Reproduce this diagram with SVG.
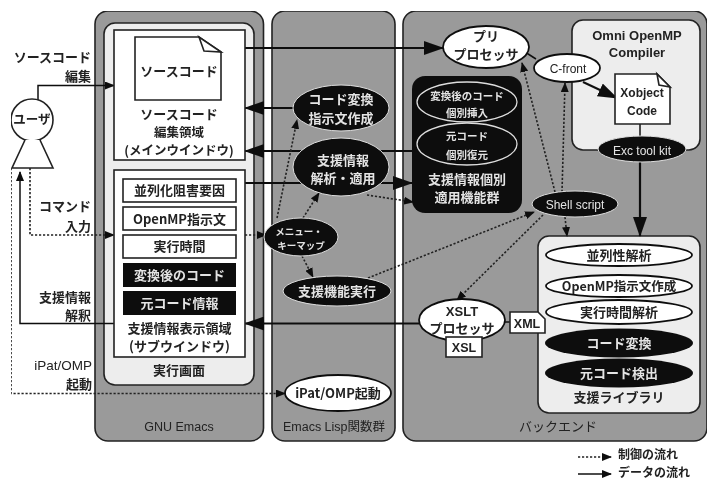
<svg xmlns="http://www.w3.org/2000/svg" width="710" height="482" viewBox="0 0 710 482">
<style>
text{font-family:"Noto Sans CJK JP","Liberation Sans",sans-serif;font-weight:700;font-size:13px;fill:#222;text-anchor:middle}
.r{text-anchor:end}
.w{fill:#e4e4e4}
.l{font-family:"Liberation Sans","Noto Sans CJK JP",sans-serif;font-weight:400;font-size:12.500px}
.s{font-size:12.500px}
.panel{fill:#9a9a9a;stroke:#222;stroke-width:1.6}
.light{fill:#ededed;stroke:#222;stroke-width:1.6}
.wb{fill:#fff;stroke:#222;stroke-width:1.6}
.bk{fill:#0c0c0c;stroke:#ddd;stroke-width:1}
.we{fill:#fff;stroke:#111;stroke-width:1.8}
.ie{fill:#0c0c0c;stroke:#ddd;stroke-width:1.3}
.ln{fill:none;stroke:#111;stroke-width:1.5}
.th{fill:none;stroke:#111;stroke-width:2.2}
.dt{fill:none;stroke:#222;stroke-width:1.6;stroke-dasharray:2.2 1.8}
</style>
<defs>
<marker id="a" markerUnits="userSpaceOnUse" markerWidth="20" markerHeight="14" refX="19" refY="7" orient="auto"><path d="M0 0L20 7L0 14z" fill="#111"/></marker>
<marker id="m" markerUnits="userSpaceOnUse" markerWidth="10" markerHeight="8" refX="9" refY="4" orient="auto"><path d="M0 0L10 4L0 8z" fill="#111"/></marker>
<filter id="soft" x="0" y="0" width="100%" height="100%"><feGaussianBlur stdDeviation="0.45"/></filter>
</defs>
<g id="diagram" filter="url(#soft)">
<g id="panels">
<rect class="panel" x="95" y="11" width="168.500" height="430" rx="13"/>
<rect class="panel" x="272" y="11" width="123" height="430" rx="13"/>
<rect class="panel" x="403" y="11" width="304" height="430" rx="13"/>
<rect class="light" x="104" y="23" width="150" height="362" rx="11"/>
<rect class="light" x="572" y="20" width="128" height="130" rx="11"/>
<rect class="light" x="538" y="236" width="162" height="177" rx="11"/>
</g>
<g id="connectors">
<path class="ln" d="M38 100V85.500H114" marker-end="url(#m)"/>
<path class="th" d="M245 48H443" marker-end="url(#a)"/>
<path class="th" d="M293 108H245" marker-end="url(#a)"/>
<path class="th" d="M412 151H245" marker-end="url(#a)"/>
<path class="th" d="M245 183H412" marker-end="url(#a)"/>
<path class="th" d="M419 323.500H245" marker-end="url(#a)"/>
<path class="ln" d="M114 323.500H20V172" marker-end="url(#m)"/>
<path class="dt" d="M30 168V235H114" marker-end="url(#m)"/>
<path class="dt" d="M245 235H266" marker-end="url(#m)"/>
<path class="dt" d="M11 168V393.500H285" marker-end="url(#m)"/>
<path class="dt" d="M277 218L297 120" marker-end="url(#m)"/>
<path class="dt" d="M303 218L319 193" marker-end="url(#m)"/>
<path class="dt" d="M367 195L413 202" marker-end="url(#m)"/>
<path class="dt" d="M302 256L313 277" marker-end="url(#m)"/>
<path class="dt" d="M368 278L534 212" marker-end="url(#m)"/>
<path class="dt" d="M543 215L457 300" marker-end="url(#m)"/>
<path class="dt" d="M555 192L522 63" marker-end="url(#m)"/>
<path class="dt" d="M562 192L565 83" marker-end="url(#m)"/>
<path class="dt" d="M565 217L567 236" marker-end="url(#m)"/>
<path class="ln" d="M525 52L536 59"/>
<path class="th" d="M583 82L617 98" marker-end="url(#a)"/>
<path class="ln" d="M640 124V137"/>
<path class="th" d="M640 162V236" marker-end="url(#a)"/>
<path class="ln" d="M503 322H512"/>
</g>
<g id="user">
<circle class="wb" cx="32" cy="120" r="21"/>
<path class="wb" d="M25 140L12 168H53L40 140"/>
<text x="32" y="124" class="s">ユーザ</text>
</g>
<g id="side-labels">
<text class="r" x="91" y="62">ソースコード</text><text class="r" x="91" y="81">編集</text>
<text class="r" x="91" y="211">コマンド</text><text class="r" x="91" y="231">入力</text>
<text class="r" x="91" y="302">支援情報</text><text class="r" x="91" y="320">解釈</text>
<text class="r l" x="92" y="370" style="font-size:13.500px">iPat/OMP</text><text class="r" x="92" y="389">起動</text>
</g>
<g id="source-area">
<rect class="wb" x="114" y="30" width="131" height="130"/>
<path class="wb" d="M135 37H199L221 52V100H135z"/>
<path class="wb" d="M199 37L204 51L221 52z"/>
<text x="179" y="76">ソースコード</text>
<text x="179" y="119">ソースコード</text>
<text x="179" y="136.500" class="s">編集領域</text>
<text x="179" y="155" class="s">(メインウインドウ)</text>
</g>
<g id="support-area">
<rect class="wb" x="114" y="170" width="131" height="187"/>
<rect class="wb" x="123" y="179" width="113" height="23"/><text x="179.500" y="195">並列化阻害要因</text>
<rect class="wb" x="123" y="207" width="113" height="23"/><text x="179.500" y="224">OpenMP指示文</text>
<rect class="wb" x="123" y="235" width="113" height="23"/><text x="179.500" y="251">実行時間</text>
<rect x="123" y="263" width="113" height="24" fill="#0c0c0c"/><text class="w" x="179.500" y="280">変換後のコード</text>
<rect x="123" y="291" width="113" height="24" fill="#0c0c0c"/><text class="w" x="179.500" y="308">元コード情報</text>
<text x="179.500" y="333">支援情報表示領域</text>
<text x="179.500" y="351">(サブウインドウ)</text>
</g>
<text id="exec-label" x="179" y="375">実行画面</text>
<text id="emacs-label" class="l" x="179" y="431">GNU Emacs</text>
<text id="lisp-label" class="l" x="334" y="431">Emacs Lisp関数群</text>
<g id="code-conv"><ellipse class="bk" cx="341" cy="108" rx="48" ry="23"/><text class="w" x="341" y="104">コード変換</text><text class="w" x="341" y="123">指示文作成</text></g>
<g id="apply"><ellipse class="bk" cx="341" cy="167" rx="48" ry="29"/><text class="w" x="343" y="165">支援情報</text><text class="w" x="343" y="183">解析・適用</text></g>
<g id="menu"><ellipse class="bk" cx="301" cy="237" rx="37" ry="19"/><text class="w" x="299" y="235" style="font-size:9.500px">メニュー・</text><text class="w" x="301" y="249" style="font-size:9.500px">キーマップ</text></g>
<g id="exec"><ellipse class="bk" cx="337" cy="291" rx="54" ry="15"/><text class="w" x="337" y="296">支援機能実行</text></g>
<g id="ipat"><ellipse class="we" cx="338" cy="393" rx="53" ry="18"/><text x="338" y="398">iPat/OMP起動</text></g>
<g id="apply-group">
<rect x="412" y="76" width="110" height="137" rx="13" fill="#0c0c0c"/>
<ellipse class="ie" cx="467" cy="102" rx="50" ry="20"/>
<text class="w" x="467" y="100" style="font-size:10.500px">変換後のコード</text><text class="w" x="467" y="117" style="font-size:10.500px">個別挿入</text>
<ellipse class="ie" cx="467" cy="144" rx="50" ry="21"/>
<text class="w" x="467" y="140" style="font-size:10.500px">元コード</text><text class="w" x="467" y="159" style="font-size:10.500px">個別復元</text>
<text class="w" x="467" y="184">支援情報個別</text><text class="w" x="467" y="202">適用機能群</text>
</g>
<g id="pre"><ellipse class="we" cx="486" cy="47" rx="43" ry="21"/><text x="486" y="41">プリ</text><text x="486" y="59">プロセッサ</text></g>
<g id="cfront"><ellipse class="we" cx="567" cy="68" rx="33" ry="14"/><text class="l" x="568" y="73" style="font-size:12px">C-front</text></g>
<text id="omni-label" class="l" x="637" y="40" style="font-weight:700;font-size:13px">Omni OpenMP</text>
<text id="omni-label2" class="l" x="637" y="57" style="font-weight:700;font-size:13px">Compiler</text>
<g id="xobject">
<path class="wb" d="M615 74H657L670 87V124H615z"/>
<path class="wb" d="M657 74L659 85L670 87z"/>
<text class="l" x="642" y="97" style="font-weight:700;font-size:12px">Xobject</text>
<text class="l" x="642" y="115" style="font-weight:700;font-size:12px">Code</text>
</g>
<g id="exc"><ellipse class="bk" cx="642" cy="149" rx="44" ry="13"/><text class="w l" x="642" y="155" style="font-size:12px">Exc tool kit</text></g>
<g id="shell"><ellipse class="bk" cx="575" cy="204" rx="43" ry="13"/><text class="w l" x="575" y="209" style="font-size:12px">Shell script</text></g>
<g id="library">
<ellipse class="we" cx="619" cy="255" rx="73" ry="11"/><text x="619" y="260">並列性解析</text>
<ellipse class="we" cx="619" cy="286" rx="73" ry="11"/><text x="619" y="291" style="font-size:12.500px">OpenMP指示文作成</text>
<ellipse class="we" cx="619" cy="312" rx="73" ry="12"/><text x="619" y="317">実行時間解析</text>
<ellipse cx="619" cy="343" rx="74" ry="14.500" fill="#0c0c0c"/><text class="w" x="619" y="348">コード変換</text>
<ellipse cx="619" cy="373" rx="74" ry="14.500" fill="#0c0c0c"/><text class="w" x="619" y="378">元コード検出</text>
<text x="619" y="402">支援ライブラリ</text>
</g>
<text id="backend-label" x="558" y="431" style="font-weight:400">バックエンド</text>
<g id="xslt">
<ellipse class="we" cx="462" cy="320" rx="43" ry="21"/>
<text class="l" x="462" y="316" style="font-weight:700;font-size:13px">XSLT</text><text x="462" y="333">プロセッサ</text>
<rect class="wb" x="446" y="337" width="36" height="20"/><text class="l" x="464" y="352" style="font-weight:700;font-size:12.500px">XSL</text>
</g>
<g id="xml">
<path class="wb" d="M510 312H538L545 319V333H510z"/>
<text class="l" x="527" y="328" style="font-weight:700;font-size:12.500px">XML</text>
</g>
<g id="legend">
<path class="dt" d="M578 457H611" marker-end="url(#m)"/>
<path class="ln" d="M578 474H611" marker-end="url(#m)"/>
<text x="618" y="459" style="text-anchor:start;font-size:12px">制御の流れ</text>
<text x="618" y="477" style="text-anchor:start;font-size:12px">データの流れ</text>
</g>
</g>
</svg>
